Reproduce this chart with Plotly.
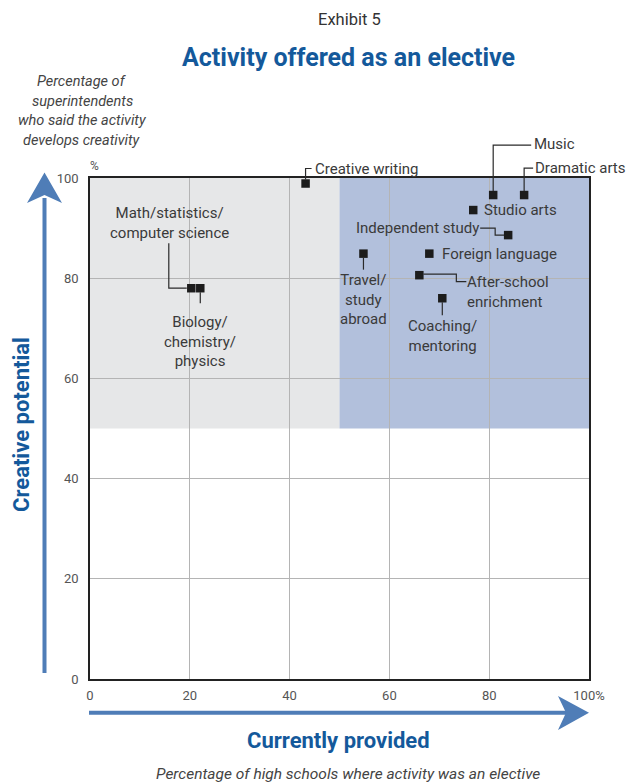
import plotly.graph_objects as go

# ---------------- data ----------------
activities = [
    "Creative writing", "Math/statistics/computer science", "Biology/chemistry/physics",
    "Music", "Dramatic arts", "Studio arts", "Independent study", "Foreign language",
    "Travel/study abroad", "After-school enrichment", "Coaching/mentoring",
]
provided = [43.2, 20.3, 22.1, 80.8, 87.0, 76.8, 83.8, 68.0, 54.8, 66.0, 70.6]
creative = [98.9, 78.0, 78.0, 96.6, 96.6, 93.6, 88.6, 84.9, 84.9, 80.6, 76.0]
label_text = [
    "Creative writing", "Math/statistics/<br>computer science", "Biology/<br>chemistry/<br>physics",
    "Music", "Dramatic arts", "Studio arts", "Independent study", "Foreign language",
    "Travel/<br>study<br>abroad", "After-school<br>enrichment", "Coaching/<br>mentoring",
]
x_ticks = [0, 20, 40, 60, 80, 100]
x_tick_labels = ["0", "20", "40", "60", "80", "100%"]
y_ticks = [0, 20, 40, 60, 80, 100]
y_tick_labels = ["0", "20", "40", "60", "80", "100"]
split_x = 50   # elective split
split_y = 50   # creativity split

# ---------------- layout constants ----------------
W, H = 628, 782
L, R, T, B = 90, 39, 178, 103
PW, PH = W - L - R, H - T - B
FONT = "Roboto, 'Open Sans', sans-serif"
BLUE_TXT = "#14599b"
ARROW = "#4f7db7"
TXT = "#3a3a3a"


def px(xp):
    return (xp - L) / PW


def py(yp):
    return (H - B - yp) / PH


# label placement (pixel offsets from the point; dy positive = downwards)
label_style = {
    "Creative writing": dict(dx=8, dy=-15, xa="left", align="left",
                             leader=[(0, -4), (0, -15), (6, -15)]),
    "Math/statistics/computer science": dict(dx=-22, dy=-65, xa="center", align="center",
                                             leader=[(-22.5, -45), (-22.5, 0), (-4.5, 0)]),
    "Biology/chemistry/physics": dict(dx=0, dy=53, xa="center", align="center",
                                      leader=[(0, 4), (0, 15)]),
    "Music": dict(dx=40, dy=-51, xa="left", align="left",
                  leader=[(0, -4), (0, -50), (38, -50)]),
    "Dramatic arts": dict(dx=10, dy=-27, xa="left", align="left",
                          leader=[(0, -4), (0, -27), (9, -27)]),
    "Studio arts": dict(dx=10, dy=0, xa="left", align="left", leader=None),
    "Independent study": dict(dx=-28, dy=-7, xa="right", align="right",
                              leader=[(-28, -7), (-13, -7), (-13, 0), (-4, 0)]),
    "Foreign language": dict(dx=12, dy=0, xa="left", align="left", leader=None),
    "Travel/study abroad": dict(dx=0, dy=46, xa="center", align="center",
                                leader=[(0, 4), (0, 16)]),
    "After-school enrichment": dict(dx=47, dy=17, xa="left", align="left",
                                    leader=[(4, -1), (37, -1), (37, 6.5), (47, 6.5)]),
    "Coaching/mentoring": dict(dx=0, dy=38, xa="center", align="center",
                               leader=[(0, 4), (0, 17)]),
}

fig = go.Figure()

fig.add_trace(go.Scatter(
    x=provided, y=creative, mode="markers", text=activities,
    marker=dict(symbol="square", size=8.5, color="#1c1c1c", line=dict(width=0)),
    cliponaxis=False, hoverinfo="text", showlegend=False,
))

shapes = [
    dict(type="rect", xref="x", yref="y", x0=0, x1=split_x, y0=split_y, y1=100,
         fillcolor="#e6e7e8", line=dict(width=0), layer="below"),
    dict(type="rect", xref="x", yref="y", x0=split_x, x1=100, y0=split_y, y1=100,
         fillcolor="#b2c0dc", line=dict(width=0), layer="below"),
]
annotations = []

for name, lab, xv, yv in zip(activities, label_text, provided, creative):
    st = label_style[name]
    xp0 = L + xv / 100 * PW
    yp0 = H - B - yv / 100 * PH
    annotations.append(dict(
        xref="paper", yref="paper", x=px(xp0 + st["dx"]), y=py(yp0 + st["dy"]),
        text=lab, showarrow=False, xanchor=st["xa"], yanchor="middle", align=st["align"],
        font=dict(family=FONT, size=15, color=TXT), borderpad=0,
    ))
    if st["leader"]:
        pts = [(px(xp0 + a), py(yp0 + b)) for a, b in st["leader"]]
        path = "M " + " L ".join(f"{a:.5f},{b:.5f}" for a, b in pts)
        shapes.append(dict(type="path", xref="paper", yref="paper", path=path,
                           line=dict(color="#2a2a2a", width=1.2)))

# arrows
shapes.append(dict(type="line", xref="paper", yref="paper",
                   x0=px(44.5), x1=px(44.5), y0=py(673), y1=py(198),
                   line=dict(color=ARROW, width=4)))
shapes.append(dict(type="path", xref="paper", yref="paper",
                   path=f"M {px(44.5)},{py(172.5)} L {px(62)},{py(203)} L {px(44.5)},{py(195)} L {px(27)},{py(203)} Z",
                   fillcolor=ARROW, line=dict(width=0)))
shapes.append(dict(type="line", xref="paper", yref="paper",
                   x0=px(89), x1=px(566), y0=py(712.7), y1=py(712.7),
                   line=dict(color=ARROW, width=4)))
shapes.append(dict(type="path", xref="paper", yref="paper",
                   path=f"M {px(589)},{py(712.7)} L {px(558)},{py(730)} L {px(566)},{py(712.7)} L {px(558)},{py(696)} Z",
                   fillcolor=ARROW, line=dict(width=0)))

# titles and axis texts
annotations += [
    dict(xref="paper", yref="paper", x=px(349), y=py(19), text="Exhibit 5", showarrow=False,
         font=dict(family=FONT, size=16.5, color="#333333"), xanchor="center", yanchor="middle"),
    dict(xref="paper", yref="paper", x=px(348), y=py(57), text="<b>Activity offered as an elective</b>",
         showarrow=False, font=dict(family=FONT, size=25, color=BLUE_TXT), xanchor="center", yanchor="middle"),
    dict(xref="paper", yref="paper", x=px(21), y=py(425), text="<b>Creative potential</b>", textangle=-90,
         showarrow=False, font=dict(family=FONT, size=22, color=BLUE_TXT), xanchor="center", yanchor="middle"),
    dict(xref="paper", yref="paper", x=px(338), y=py(740), text="<b>Currently provided</b>",
         showarrow=False, font=dict(family=FONT, size=22, color=BLUE_TXT), xanchor="center", yanchor="middle"),
    dict(xref="paper", yref="paper", x=px(348), y=py(774), text="<i>Percentage of high schools where activity was an elective</i>",
         showarrow=False, font=dict(family=FONT, size=15.5, color="#444444"), xanchor="center", yanchor="middle"),
    dict(xref="paper", yref="paper", x=px(88), y=py(166), text="%", showarrow=False,
         font=dict(family=FONT, size=12, color="#555555"), xanchor="left", yanchor="middle"),
]
for i, line in enumerate(["Percentage of", "superintendents", "who said the activity", "develops creativity"]):
    annotations.append(dict(xref="paper", yref="paper", x=px(82), y=py(81.5 + 19.7 * i),
                            text=f"<i>{line}</i>", showarrow=False,
                            font=dict(family=FONT, size=14.5, color="#444444"),
                            xanchor="center", yanchor="middle"))

axis_common = dict(range=[0, 100], showgrid=True, gridcolor="#b4b4b4", gridwidth=1,
                   zeroline=False, showline=True, mirror=True, linecolor="#222222", linewidth=1.5,
                   ticks="", tickfont=dict(family=FONT, size=13, color="#555555"), fixedrange=True)

fig.update_layout(
    width=W, height=H, margin=dict(l=L, r=R, t=T, b=B, pad=0),
    paper_bgcolor="white", plot_bgcolor="white",
    xaxis=dict(axis_common, tickvals=x_ticks, ticktext=x_tick_labels, ticklabelstandoff=4),
    yaxis=dict(axis_common, tickvals=y_ticks, ticktext=y_tick_labels, ticklabelstandoff=7),
    shapes=shapes, annotations=annotations, showlegend=False,
    font=dict(family=FONT),
)

fig.write_html("out.html", config={"displayModeBar": False},
               post_script="document.body.style.margin='0';document.body.style.overflow='hidden';")
